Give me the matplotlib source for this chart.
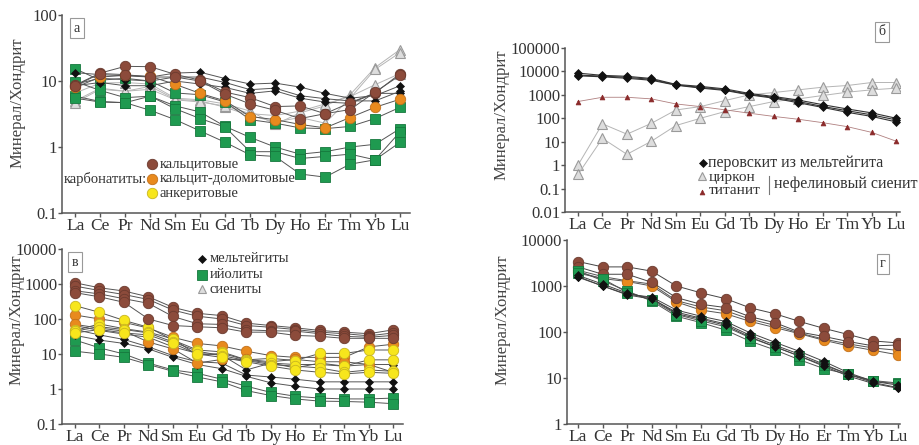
import numpy as np
import matplotlib
matplotlib.use("Agg")
import matplotlib.pyplot as plt

plt.rcParams['font.family'] = ['Liberation Serif', 'DejaVu Serif']

REE = ["La", "Ce", "Pr", "Nd", "Sm", "Eu", "Gd", "Tb", "Dy", "Ho", "Er", "Tm", "Yb", "Lu"]

# --- panel а: carbonatites, minerals normalised to chondrite ---
a_sien = [
    [6.6, 9.3, 9.5, 9.0, 5.5, 5.2, 4.5, 3.5, 2.2, 3.3, 4.2, 6.2, 16, 30],
    [5.0, 7.8, 7.0, 8.3, 5.3, 5.0, 4.0, 3.0, 2.4, 2.8, 2.3, 5.5, 15, 27],
    [4.7, 7.5, 7.0, 7.5, 5.2, 4.8, 4.2, 3.2, 3.0, 3.5, 4.5, 5.8, 8.8, 13],
]
a_ijol = [
    [15.3, 10.3, 11.0, 10.0, 6.6, 6.2, 4.8, 2.6, 2.3, 1.95, 1.9, 2.05, 2.7, 4.0],
    [9.8, 7.2, 5.6, 5.9, 4.2, 3.4, 2.05, 1.4, 1.0, 0.78, 0.85, 1.0, 1.1, 1.9],
    [5.9, 4.9, 4.7, 5.9, 3.8, 2.7, 2.0, 0.85, 0.85, 0.67, 0.72, 0.78, 0.64, 1.7],
    [5.5, 4.8, 4.7, 3.6, 2.6, 1.75, 1.18, 0.76, 0.72, 0.39, 0.35, 0.55, 0.64, 1.18],
]
a_melt = [
    [13.4, 12.5, 12.0, 11.5, 13.2, 13.6, 10.9, 9.0, 9.3, 8.1, 6.5, 5.5, 6.0, 8.5],
    [9.0, 11.0, 10.5, 10.0, 11.5, 11.5, 9.5, 7.4, 7.8, 6.0, 5.4, 5.0, 5.0, 7.0],
    [8.5, 9.5, 8.5, 8.5, 10.0, 9.0, 8.0, 6.5, 7.1, 5.5, 4.8, 4.6, 6.5, 6.5],
]
a_calc = [
    [8.7, 13.2, 16.7, 16.5, 12.6, 10.3, 6.8, 5.6, 4.1, 4.2, 3.2, 4.7, 6.6, 12.9],
    [8.5, 13.0, 12.5, 11.5, 11.5, 10.0, 6.3, 4.5, 3.6, 2.7, 3.2, 3.7, 6.8, 12.2],
]
a_caldol = [
    [8.0, 11.5, 12.2, 11.8, 8.9, 6.5, 5.0, 2.9, 2.6, 2.2, 1.95, 2.8, 4.0, 5.3],
]

# --- panel б: perovskite, zircon, titanite ---
b_perov = [
    [8500, 6800, 6200, 5000, 2800, 2300, 1800, 1150, 850, 600, 380, 250, 170, 100],
    [7000, 6300, 5600, 4600, 2650, 2100, 1650, 1050, 780, 520, 320, 210, 140, 85],
    [6500, 5900, 5100, 4200, 2600, 1950, 1550, 1000, 720, 460, 290, 180, 120, 70],
]
b_zircon = [
    [1.0, 58, 21, 61, 226, 316, 570, 1000, 1260, 1640, 2130, 2510, 3370, 3370],
    [0.40, 13.9, 2.9, 10.5, 49, 100, 193, 316, 520, 675, 940, 1300, 1640, 1930],
]
b_titan = [520, 790, 790, 675, 410, 316, 230, 165, 120, 91, 65, 44, 25, 10.5]

# --- panel в: whole rocks ---
c_calc = [
    [1080, 780, 630, 430, 215, 145, 125, 76, 65, 56, 47, 42, 38, 49],
    [870, 650, 500, 360, 180, 120, 100, 65, 58, 50, 42, 38, 33, 40],
    [640, 520, 380, 280, 118, 73, 70, 49, 46, 45, 38, 32, 30, 34],
    [565, 430, 300, 100, 65, 60, 56, 42, 42, 34, 32, 28, 28, 28],
]
c_caldol = [
    [130, 100, 80, 55, 30, 20, 17, 12, 9, 8, 8, 8, 16, 19],
    [70, 55, 45, 22, 14, 5.5, 7, 7, 6, 7, 6, 6, 5, 3],
]
c_ank = [
    [240, 155, 91, 58, 25, 13, 11.5, 6.8, 7.5, 6.5, 10.4, 10.4, 13, 13],
    [47, 72, 53, 42, 27, 9.3, 10.4, 6.8, 5.5, 4.0, 5.5, 4.5, 6.8, 6.8],
    [45, 60, 50, 40, 22, 12, 9, 6.5, 5.0, 4.5, 4.0, 3.0, 3.5, 3.2],
    [40, 50, 40, 35, 20, 10, 8, 6, 4.5, 3.5, 3.0, 2.7, 3.0, 2.8],
]
c_melt = [
    [65, 47, 37, 30, 16, 10.4, 9.3, 3.5, 5.5, 5.0, 5.0, 4.5, 5.0, 5.0],
    [50, 35, 26, 16, 9, 6, 5.5, 2.5, 2.2, 1.9, 1.6, 1.6, 1.6, 1.6],
    [34, 25, 20, 14, 8, 5, 3.8, 2.3, 1.5, 1.2, 1.0, 1.0, 1.0, 1.0],
]
c_ijol = [
    [25, 15, 10, 5.5, 3.5, 2.8, 1.9, 1.2, 0.8, 0.62, 0.55, 0.52, 0.52, 0.55],
    [12, 10, 8, 5, 3.2, 2.2, 1.6, 0.9, 0.65, 0.52, 0.45, 0.44, 0.42, 0.38],
]

# --- panel г ---
d_calc = [
    [3400, 2600, 2600, 2100, 1000, 710, 530, 335, 250, 170, 120, 88, 64, 58],
    [2600, 1800, 1800, 1200, 560, 400, 340, 215, 160, 100, 80, 62, 50, 52],
]
d_caldol = [
    [2200, 1600, 1300, 1100, 480, 350, 290, 190, 140, 95, 70, 55, 45, 40],
    [2000, 1450, 1250, 1000, 450, 300, 250, 170, 125, 92, 66, 50, 40, 32],
]
d_ijol = [
    [2150, 1300, 780, 470, 220, 160, 110, 63, 41, 25, 16, 12, 8.8, 7.8],
    [1900, 1450, 720, 500, 240, 175, 130, 75, 48, 30, 19, 12, 8.5, 7.5],
]
d_melt = [
    [1600, 1000, 660, 575, 300, 220, 170, 96, 60, 38, 23, 13, 8.5, 7.0],
    [1550, 1000, 640, 520, 270, 200, 150, 85, 52, 33, 20, 12, 8.0, 6.2],
    [1700, 1100, 700, 540, 250, 190, 140, 78, 48, 30, 18, 11, 7.6, 6.0],
]

TXT = '#333333'
LINE = '#555555'
STY = {
    'calc':   dict(marker='o', ms=7.5, mfc='#8c4b3b', mec='#6b3a2e', mew=0.6),
    'caldol': dict(marker='o', ms=7.5, mfc='#e88a1e', mec='#c2701a', mew=0.6),
    'ank':    dict(marker='o', ms=7.5, mfc='#f7e61c', mec='#c8b520', mew=0.6),
    'ijol':   dict(marker='s', ms=7, mfc='#1f9a50', mec='#16783d', mew=0.6),
    'melt':   dict(marker='D', ms=4, mfc='#111111', mec='#111111', mew=0.5),
    'sien':   dict(marker='^', ms=7.5, mfc='#dddddd', mec='#9a9a9a', mew=0.8),
    'titan':  dict(marker='^', ms=3.5, mfc='#8b2a2a', mec='#8b2a2a', mew=0.5),
}
x = np.arange(len(REE))


def draw(ax, rows, kind, lc=LINE, lw=0.7):
    for r in rows:
        ax.plot(x, r, color=lc, lw=lw, zorder=2, **STY[kind])


def setup(ax, ylo, yhi, xlim):
    ax.set_yscale('log')
    ax.set_ylim(ylo, yhi)
    ax.set_xlim(*xlim)
    ax.set_xticks(x)
    ax.set_xticklabels(REE, fontsize=12.5, color=TXT)
    dec = [10.0 ** k for k in range(int(np.log10(ylo)), int(np.log10(yhi)) + 1)]
    ax.set_yticks(dec)
    ax.set_yticklabels([('%g' % d) if d < 1 else str(int(d)) for d in dec], fontsize=12, color=TXT)
    ax.yaxis.set_minor_locator(matplotlib.ticker.NullLocator())
    for s in ('top', 'right'):
        ax.spines[s].set_visible(False)
    for s in ('left', 'bottom'):
        ax.spines[s].set_color('#555555')
        ax.spines[s].set_linewidth(1.1)
    ax.tick_params(axis='both', colors='#555555', labelcolor=TXT, length=3, width=1, pad=0.5)


def tag(ax, xa, ya, s):
    ax.text(xa, ya, s, transform=ax.transAxes, fontsize=10, color=TXT, ha='center', va='center',
            bbox=dict(boxstyle='square,pad=0.25', fc='white', ec='#999999', lw=0.8), clip_on=False)


def key(ax, xa, ya, kind, s, fs=11, dx=0.022, **kw):
    st = dict(STY[kind])
    st.update(kw)
    ax.plot([xa], [ya], transform=ax.transAxes, clip_on=False, zorder=5, ls='none', **st)
    ax.text(xa + dx, ya, s, transform=ax.transAxes, fontsize=fs, color=TXT, va='center', ha='left')


fig = plt.figure(figsize=(9.2, 4.45), dpi=100)
ax_a = fig.add_axes([0.0674, 0.5213, 0.3783, 0.4449])
ax_b = fig.add_axes([0.6141, 0.5236, 0.3641, 0.3685])
ax_c = fig.add_axes([0.0674, 0.0472, 0.3707, 0.3933])
ax_d = fig.add_axes([0.6163, 0.0472, 0.3620, 0.4135])

# а
setup(ax_a, 0.1, 100, (-0.53, 13.4))
draw(ax_a, a_sien, 'sien', lc='#b5b5b5')
draw(ax_a, a_ijol, 'ijol')
draw(ax_a, a_melt, 'melt')
draw(ax_a, a_caldol, 'caldol')
draw(ax_a, a_calc, 'calc')
tag(ax_a, 0.043, 0.934, 'а')
key(ax_a, 0.259, 0.247, 'calc', 'кальцитовые', fs=10.5)
key(ax_a, 0.259, 0.172, 'caldol', 'кальцит-доломитовые', fs=10.5)
key(ax_a, 0.259, 0.101, 'ank', 'анкеритовые', fs=10.5)
ax_a.text(0.243, 0.172, 'карбонатиты:', transform=ax_a.transAxes, fontsize=10.5, color=TXT,
          ha='right', va='center')

# б
setup(ax_b, 0.01, 100000, (-0.53, 13.15))
draw(ax_b, b_zircon, 'sien', lc='#b5b5b5')
ax_b.plot(x, b_titan, color='#b08080', lw=0.6, zorder=2, **STY['titan'])
draw(ax_b, b_perov, 'melt', lc='#333333', lw=0.8)
tag(ax_b, 0.946, 1.098, 'б')
key(ax_b, 0.412, 0.299, 'melt', 'перовскит из мельтейгита', fs=11.5, dx=0.015)
ax_b.plot([0.41], [0.22], transform=ax_b.transAxes, clip_on=False, ls='none',
          **dict(STY['sien'], ms=5.5))
ax_b.plot([0.41], [0.122], transform=ax_b.transAxes, clip_on=False, ls='none', **STY['titan'])
ax_b.text(0.428, 0.208, 'циркон', transform=ax_b.transAxes, fontsize=11, color=TXT, va='center')
ax_b.text(0.428, 0.132, 'титанит', transform=ax_b.transAxes, fontsize=11, color=TXT, va='center')
ax_b.plot([0.61, 0.61], [0.11, 0.22], transform=ax_b.transAxes, clip_on=False, color='#777777', lw=0.8)
ax_b.text(0.625, 0.168, 'нефелиновый сиенит', transform=ax_b.transAxes, fontsize=11.5, color=TXT,
          va='center')

# в
setup(ax_c, 0.1, 10000, (-0.53, 13.4))
draw(ax_c, c_ijol, 'ijol')
draw(ax_c, c_melt, 'melt')
draw(ax_c, c_caldol, 'caldol')
draw(ax_c, c_ank, 'ank')
draw(ax_c, c_calc, 'calc')
tag(ax_c, 0.038, 0.925, 'в')
key(ax_c, 0.41, 0.943, 'melt', 'мельтейгиты', fs=10.5)
key(ax_c, 0.41, 0.852, 'ijol', 'ийолиты', fs=10.5)
key(ax_c, 0.41, 0.77, 'sien', 'сиениты', fs=10.5, ms=6)

# г
setup(ax_d, 1, 10000, (-0.45, 13.1))
draw(ax_d, d_caldol, 'caldol')
draw(ax_d, d_calc, 'calc', lc='#444444')
draw(ax_d, d_ijol, 'ijol')
draw(ax_d, d_melt, 'melt', lc='#444444')
tag(ax_d, 0.949, 0.87, 'г')

for yc, xc in ((0.768, 18), (0.742, 502), (0.281, 17), (0.281, 503)):
    fig.text(xc / 920, yc, 'Минерал/Хондрит', rotation=90, fontsize=12, color='#444444',
             ha='center', va='center')

fig.savefig('out.png', dpi=100)
